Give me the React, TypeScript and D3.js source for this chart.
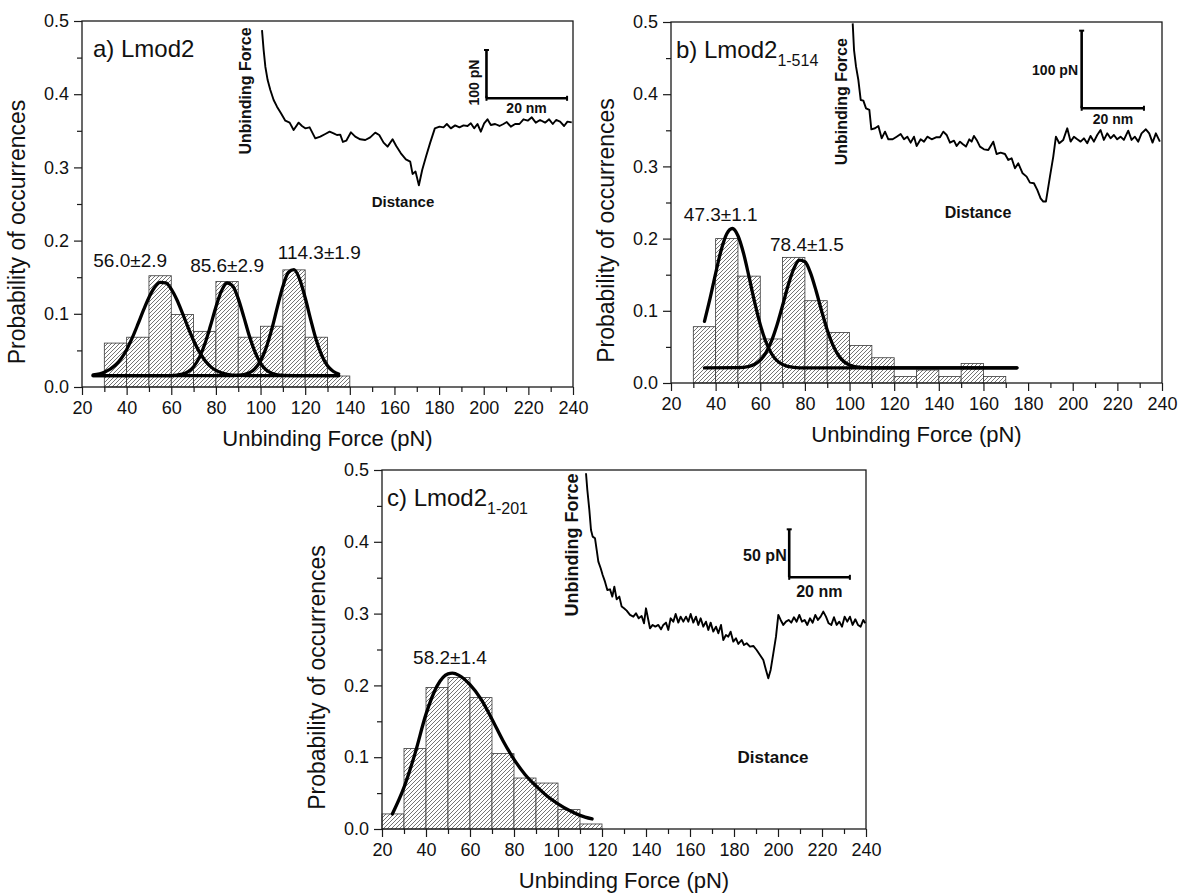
import React, { useEffect, useRef } from "react";
import * as d3 from "d3";

// ---------- axis ticks ----------
const xTicks = [20, 40, 60, 80, 100, 120, 140, 160, 180, 200, 220, 240];
const xMinor = [30, 50, 70, 90, 110, 130, 150, 170, 190, 210, 230];
const yTicks = [0, 0.1, 0.2, 0.3, 0.4, 0.5];
const yMinor = [0.05, 0.15, 0.25, 0.35, 0.45];

// ---------- histograms (bin edges in pN, probability per bin) ----------
const edgesA = [30, 40, 50, 60, 70, 80, 90, 100, 110, 120, 130, 140];
const probA = [0.06, 0.068, 0.152, 0.099, 0.076, 0.144, 0.068, 0.083, 0.16, 0.068, 0.015];

const edgesB = [30, 40, 50, 60, 70, 80, 90, 100, 110, 120, 130, 140, 150, 160, 170];
const probB = [0.078, 0.2, 0.148, 0.061, 0.174, 0.114, 0.07, 0.052, 0.035, 0.009, 0.018, 0.009, 0.027, 0.009];

const edgesC = [20, 30, 40, 50, 60, 70, 80, 90, 100, 110, 120];
const probC = [0.021, 0.112, 0.197, 0.211, 0.183, 0.105, 0.071, 0.064, 0.027, 0.007];

// ---------- fitted curves [force, probability] ----------
const fitA1 = [[25, 0.0165], [30, 0.02], [35, 0.03], [37.5, 0.0387], [40, 0.051], [42.5, 0.067], [45, 0.0854], [47.5, 0.1047], [50, 0.1224], [52.5, 0.1358], [55, 0.1429], [57.5, 0.1421], [60, 0.1337], [62.5, 0.1192], [65, 0.1009], [67.5, 0.0816], [70, 0.0635], [72.5, 0.0483], [75, 0.0366], [77.5, 0.0282], [80, 0.0227], [85, 0.0174], [90, 0.0159], [100, 0.0155], [120, 0.0155], [135, 0.0155]];
const fitA2 = [[25, 0.0155], [50, 0.0155], [60, 0.0156], [65, 0.0176], [70, 0.0277], [72.5, 0.0398], [75, 0.0584], [77.5, 0.0829], [80, 0.1094], [82.5, 0.1313], [85, 0.1421], [87.5, 0.1382], [90, 0.1208], [92.5, 0.0958], [95, 0.0696], [97.5, 0.0479], [100, 0.0327], [105, 0.0189], [110, 0.0159], [120, 0.0155], [135, 0.0155]];
const fitA3 = [[25, 0.0155], [85, 0.0156], [90, 0.0159], [95, 0.0195], [97.5, 0.0251], [100, 0.0357], [102.5, 0.0535], [105, 0.0787], [107.5, 0.1087], [110, 0.1373], [112.5, 0.1566], [115, 0.1603], [117.5, 0.1473], [120, 0.1219], [122.5, 0.0917], [125, 0.0638], [127.5, 0.0427], [130, 0.029], [132.5, 0.0215], [135, 0.0178]];

const fitB1 = [[35, 0.0854], [37.5, 0.1171], [40, 0.152], [42.5, 0.1843], [45, 0.2067], [47.5, 0.214], [50, 0.204], [52.5, 0.1797], [55, 0.1465], [57.5, 0.1117], [60, 0.0809], [62.5, 0.0571], [65, 0.0409], [70, 0.0256], [75, 0.0217], [80, 0.021], [100, 0.021], [175, 0.021]];
const fitB2 = [[35, 0.021], [50, 0.0213], [55, 0.0231], [57.5, 0.026], [60, 0.0317], [62.5, 0.0418], [65, 0.0579], [67.5, 0.0803], [70, 0.1074], [72.5, 0.1353], [75, 0.158], [77.5, 0.1701], [80, 0.168], [82.5, 0.1526], [85, 0.1277], [87.5, 0.0996], [90, 0.0734], [92.5, 0.0528], [95, 0.0384], [100, 0.0249], [105, 0.0216], [110, 0.021], [175, 0.021]];

const fitC1 = [[24.7, 0.021], [30, 0.058], [35, 0.105], [40, 0.16], [45, 0.199], [50, 0.216], [52, 0.217], [55, 0.214], [60, 0.201], [65, 0.181], [70, 0.153], [75, 0.123], [80, 0.097], [85, 0.076], [90, 0.06], [95, 0.046], [100, 0.035], [105, 0.026], [110, 0.019], [115.5, 0.014]];

// ---------- peak annotations ----------
const peakTextA = ["56.0\u00b12.9", "85.6\u00b12.9", "114.3\u00b11.9"];
const peakTextB = ["47.3\u00b11.1", "78.4\u00b11.5"];
const peakTextC = ["58.2\u00b11.4"];

// ---------- example force-distance traces (distance nm, force pN rel. to baseline) ----------
const traceANm = [0, 0.41, 0.83, 1.4, 2.07, 2.89, 3.72, 4.71, 5.79, 6.86, 7.85, 9.09, 9.92, 10.74, 11.82, 13.22, 14.46, 15.7, 16.78, 17.77, 18.6, 19.42, 20.08, 20.91, 22.07, 23.14, 24.38, 25.62, 26.86, 28.1, 29.09, 30.17, 31.16, 32.4, 33.31, 34.46, 35.7, 36.78, 37.36, 38.1, 38.93, 39.75, 40.74, 41.74, 42.89, 44.05, 45.04, 45.87, 46.86, 47.93, 49.0, 50.0, 51.0, 51.82, 52.64, 53.47, 54.3, 55.12, 55.95, 56.78, 57.85, 58.93, 59.92, 60.74, 61.74, 62.81, 63.88, 64.88, 65.95, 66.94, 67.93, 69.0, 70.25, 71.24, 72.15, 72.98, 73.97, 74.96, 75.79, 76.86];
const traceAPn = [194.5, 153, 118.6, 91, 70.3, 49.7, 35.9, 22.1, 6.9, 2.8, -12.4, 2.8, -4.1, -9.0, -6.9, -29.7, -26.2, -20.7, -15.9, -19.3, -22.8, -22.1, -37.2, -34.5, -17.2, -26.2, -31.7, -33.1, -27.6, -17.9, -22.8, -38.6, -46.9, -31.7, -45.5, -60.7, -73.1, -77.9, -103.4, -98.6, -126.9, -95.2, -66.2, -38.6, -9.0, -5.5, -6.9, 0, -9.0, -2.8, -6.9, -2.8, -4.1, 1.4, -9.0, 0, -15.9, 1.4, 9.7, -2.1, 0, -4.1, 0, 4.1, -5.5, 0, 0, 9.7, 6.9, 13.8, 2.8, 8.3, 2.8, 9.7, 0, 8.3, 4.8, -4.1, 4.8, 3.4];

const traceBNm = [0, 0.43, 1.07, 1.82, 2.57, 3.42, 4.28, 5.35, 5.99, 7.17, 8.24, 9.3, 10.37, 11.44, 12.83, 14.12, 15.4, 16.47, 17.54, 18.61, 19.68, 20.53, 21.82, 22.89, 23.96, 25.35, 26.74, 28.02, 29.09, 30.16, 31.23, 32.51, 33.37, 34.44, 35.29, 36.36, 37.43, 38.18, 38.93, 39.79, 40.86, 42.14, 43.53, 45.13, 46.2, 47.49, 48.88, 49.95, 51.02, 52.09, 53.16, 54.55, 55.83, 56.9, 58.18, 59.25, 60.32, 61.18, 62.03, 63.32, 64.39, 65.24, 66.31, 67.59, 68.88, 69.95, 71.02, 72.09, 73.16, 74.23, 75.29, 76.36, 77.43, 78.5, 79.57, 80.64, 81.71, 82.78, 83.85, 84.92, 85.99, 87.06, 88.45, 89.52, 90.59, 91.66, 92.73, 94.12, 95.19, 96.26, 97.33, 98.61];
const traceBPn = [148.1, 113.7, 92.3, 75.1, 49.4, 48.5, 38.6, 36.5, 11.6, 12.9, 15.9, 0, 8.6, -1.3, -1.3, 2.1, 5.6, -1.3, 2.1, -5.6, 2.1, -9.9, -1.3, -4.3, 2.1, -1.3, 1.3, 1.3, 8.6, 4.3, -5.6, -3.0, -9.9, -4.3, -7.3, -10.7, -1.3, -4.3, 3.0, -2.1, -10.7, -14.2, -15.0, -4.3, -20.2, -18.5, -20.2, -27.9, -25.8, -38.6, -32.2, -45.1, -49.4, -57.1, -57.9, -66.5, -77.3, -81.5, -81.5, -49.4, -23.6, 2.1, -6.4, -2.1, 12.9, -4.3, 2.1, -1.3, -4.3, 0, -6.4, 3.0, -4.3, 4.3, 10.7, -2.1, 6.4, 0, 4.3, -1.3, 2.1, -2.1, 9.9, -2.1, 2.1, -4.3, 6.4, 11.6, 6.4, -5.6, 6.4, -4.3];

const traceCNm = [0, 0.44, 1.1, 1.65, 2.2, 2.97, 3.52, 4.07, 4.84, 5.49, 6.26, 7.03, 7.91, 8.68, 9.34, 10.11, 10.99, 11.76, 12.53, 13.41, 14.51, 15.6, 16.48, 17.36, 18.35, 19.12, 19.78, 20.55, 21.1, 21.98, 22.86, 23.85, 24.73, 25.49, 26.37, 27.14, 27.91, 28.79, 29.56, 30.44, 31.21, 32.09, 32.97, 33.74, 34.51, 35.38, 36.26, 37.03, 37.8, 38.68, 39.56, 40.33, 41.1, 41.98, 42.86, 43.63, 44.51, 45.27, 46.15, 46.92, 47.69, 48.57, 49.45, 50.22, 51.32, 52.09, 52.97, 54.07, 55.16, 56.26, 57.36, 58.46, 59.34, 60.11, 60.88, 61.76, 62.64, 63.41, 64.18, 65.05, 65.93, 66.81, 67.69, 68.57, 69.45, 70.33, 71.21, 72.09, 72.97, 73.85, 74.73, 75.6, 76.48, 77.36, 78.24, 79.12, 80.0, 80.88, 81.76, 82.64, 83.52, 84.4, 85.27, 86.15, 87.03, 87.91, 88.79, 89.67, 90.55, 91.43, 92.09];
const traceCPn = [156.3, 138.9, 118.1, 97.2, 90.3, 88.5, 76.4, 64.2, 57.3, 50.3, 43.4, 34.7, 35.4, 27.8, 38.2, 25.0, 27.8, 17.4, 15.6, 13.2, 8.7, 6.9, 10.4, 5.2, 7.6, 0, 15.6, 3.5, -5.2, -1.7, -3.5, -1.7, -6.3, -1.7, 0.7, -6.9, 5.2, 1.7, 9.7, 0.7, 6.9, 1.7, 6.9, 1.7, 9.7, 0.7, 6.9, -1.7, 5.2, -3.5, 1.7, -6.9, 0.7, -8.7, -3.5, -10.4, -1.7, -17.4, -12.2, -13.9, -8.7, -19.1, -15.6, -21.5, -17.4, -22.6, -20.8, -24.3, -23.6, -27.8, -33.0, -38.2, -48.6, -57.3, -48.6, -31.3, -13.9, 8.7, 3.5, -1.7, 1.7, 3.5, 0.7, 6.3, 1.7, 8.7, 1.7, 3.5, -1.7, 5.2, 0.7, 8.7, 3.5, 6.9, 12.2, 6.9, 0, -1.7, 6.3, -1.7, 1.7, -3.5, 6.9, 1.7, 6.9, -1.7, 4.2, -1.7, -3.5, 3.5, 0];

// scale bars of the insets
const barForce = [100, 100, 50];
const barDist = [20, 20, 20];

const FONT = "'Liberation Sans', Arial, Helvetica, sans-serif";

// layout of the three panels (pixels)
const panels = [
  {
    left: 82, top: 21, w: 491, h: 366,
    label: "a) Lmod2", sub: "", labelX: 11,
    edges: edgesA, probs: probA, fits: [fitA1, fitA2, fitA3],
    notes: peakTextA, notePos: [[41.6, 0.164], [85, 0.157], [126.3, 0.175]],
    inset: {
      nm: traceANm, pN: traceAPn, ox: 180, oy: 103, pxNm: 4.03, pxPn: 0.483,
      barNm: 55.7, barPn: 53.2, force: barForce[0], dist: barDist[0],
      forceLabel: "100 pN", forceRot: true, forcePos: [391.6, 61.5], distPos: [444.6, 87.3], barFont: 14,
      ubPos: [163.3, 70], ubFont: 16, distTextPos: [321, 180.7], distFont: 15,
    },
  },
  {
    left: 671, top: 22, w: 491, h: 361,
    label: "b) Lmod2", sub: "1-514", labelX: 5,
    edges: edgesB, probs: probB, fits: [fitB1, fitB2],
    notes: peakTextB, notePos: [[42.3, 0.225], [80.9, 0.183]],
    inset: {
      nm: traceBNm, pN: traceBPn, ox: 181.7, oy: 116.3, pxNm: 3.115, pxPn: 0.776,
      barNm: 73.5, barPn: 38.7, force: barForce[1], dist: barDist[1],
      forceLabel: "100 pN", forceRot: false, forcePos: [407, 48], distPos: [442, 97], barFont: 14,
      ubPos: [170.7, 79.7], ubFont: 16, distTextPos: [307, 190], distFont: 16,
    },
  },
  {
    left: 382, top: 470, w: 484, h: 359,
    label: "c) Lmod2", sub: "1-201", labelX: 5,
    edges: edgesC, probs: probC, fits: [fitC1],
    notes: peakTextC, notePos: [[50.9, 0.23]],
    inset: {
      nm: traceCNm, pN: traceCPn, ox: 204, oy: 153.3, pxNm: 3.033, pxPn: 0.96,
      barNm: 67.0, barPn: 47.9, force: barForce[2], dist: barDist[2],
      forceLabel: "50 pN", forceRot: false, forcePos: [404.7, 85], distPos: [437.3, 121.7], barFont: 16,
      ubPos: [189.7, 75], ubFont: 18, distTextPos: [391, 287], distFont: 17,
    },
  },
];

function drawPanel(root: any, p: any) {
  const g = root.append("g").attr("transform", `translate(${p.left},${p.top})`);
  const x = d3.scaleLinear().domain([20, 240]).range([0, p.w]);
  const y = d3.scaleLinear().domain([0, 0.5]).range([p.h, 0]);

  // histogram bars
  g.selectAll("rect.bar")
    .data(p.probs)
    .enter()
    .append("rect")
    .attr("class", "bar")
    .attr("x", (d: number, i: number) => x(p.edges[i]))
    .attr("width", (d: number, i: number) => x(p.edges[i + 1]) - x(p.edges[i]))
    .attr("y", (d: number) => y(d))
    .attr("height", (d: number) => p.h - y(d))
    .attr("fill", "url(#hatch)")
    .attr("stroke", "#3a3a3a")
    .attr("stroke-width", 0.8);

  // fitted curves
  const line = d3.line<number[]>()
    .x(d => x(d[0]))
    .y(d => y(d[1]))
    .curve(d3.curveMonotoneX);
  p.fits.forEach((f: number[][]) => {
    g.append("path")
      .datum(f)
      .attr("d", line)
      .attr("fill", "none")
      .attr("stroke", "#000")
      .attr("stroke-width", 3.3)
      .attr("stroke-linecap", "round")
      .attr("stroke-linejoin", "round");
  });

  // peak labels
  p.notes.forEach((t: string, i: number) => {
    g.append("text")
      .attr("x", x(p.notePos[i][0]))
      .attr("y", y(p.notePos[i][1]))
      .attr("text-anchor", "middle")
      .attr("font-family", FONT)
      .attr("font-size", 19)
      .attr("fill", "#111")
      .text(t);
  });

  // axes
  const styleAxis = (ax: any) => {
    ax.select(".domain").remove();
    ax.selectAll("line").attr("stroke", "#1a1a1a").attr("stroke-width", 1.2);
    ax.selectAll("text").attr("font-family", FONT).attr("font-size", 18).attr("fill", "#111");
  };
  const xa = g.append("g").attr("transform", `translate(0,${p.h})`)
    .call(d3.axisBottom(x).tickValues(xTicks).tickSize(8).tickPadding(6).tickFormat(d3.format("d")));
  styleAxis(xa);
  const xm = g.append("g").attr("transform", `translate(0,${p.h})`)
    .call(d3.axisBottom(x).tickValues(xMinor).tickSize(5).tickFormat(() => ""));
  styleAxis(xm);
  const ya = g.append("g")
    .call(d3.axisLeft(y).tickValues(yTicks).tickSize(8).tickPadding(5).tickFormat(d3.format(".1f")));
  styleAxis(ya);
  const ym = g.append("g")
    .call(d3.axisLeft(y).tickValues(yMinor).tickSize(5).tickFormat(() => ""));
  styleAxis(ym);

  // frame
  g.append("rect")
    .attr("width", p.w).attr("height", p.h)
    .attr("fill", "none").attr("stroke", "#1a1a1a").attr("stroke-width", 1.3);

  // axis titles
  g.append("text")
    .attr("x", p.w / 2).attr("y", p.h + 59)
    .attr("text-anchor", "middle")
    .attr("font-family", FONT).attr("font-size", 22).attr("fill", "#111")
    .text("Unbinding Force (pN)");
  g.append("text")
    .attr("transform", `translate(-57,${p.h / 2 + 28}) rotate(-90)`)
    .attr("text-anchor", "middle")
    .attr("font-family", FONT).attr("font-size", 23).attr("fill", "#111")
    .text("Probability of occurrences");

  // panel label
  const lab = g.append("text")
    .attr("x", p.labelX).attr("y", 36)
    .attr("font-family", FONT).attr("font-size", 24).attr("fill", "#111");
  lab.append("tspan").text(p.label);
  if (p.sub) lab.append("tspan").attr("font-size", 16).attr("dy", 8).text(p.sub);

  drawInset(g, p.inset);
}

function drawInset(g: any, s: any) {
  const ix = d3.scaleLinear().domain([0, 1]).range([s.ox, s.ox + s.pxNm]);
  const iy = d3.scaleLinear().domain([0, 1]).range([s.oy, s.oy - s.pxPn]);
  const pts = d3.zip(s.nm, s.pN) as number[][];

  g.append("path")
    .datum(pts)
    .attr("d", d3.line<number[]>().x(d => ix(d[0])).y(d => iy(d[1])))
    .attr("fill", "none")
    .attr("stroke", "#000")
    .attr("stroke-width", 1.9)
    .attr("stroke-linejoin", "round");

  // scale bar
  const bx = ix(s.barNm), by = iy(s.barPn);
  const byTop = iy(s.barPn + s.force), bxEnd = ix(s.barNm + s.dist);
  const bar = g.append("g").attr("stroke", "#000").attr("stroke-width", 2.6).attr("fill", "none");
  bar.append("line").attr("x1", bx).attr("x2", bx).attr("y1", byTop).attr("y2", by);
  bar.append("line").attr("x1", bx).attr("x2", bxEnd).attr("y1", by).attr("y2", by);
  bar.append("line").attr("x1", bx - 2.5).attr("x2", bx + 2.5).attr("y1", byTop).attr("y2", byTop).attr("stroke-width", 2);
  bar.append("line").attr("x1", bxEnd).attr("x2", bxEnd).attr("y1", by - 2.5).attr("y2", by + 2.5).attr("stroke-width", 2);
  bar.append("line").attr("x1", bx).attr("x2", bx).attr("y1", by - 2.5).attr("y2", by + 2.5).attr("stroke-width", 2);

  const bold = (sel: any, size: number) =>
    sel.attr("font-family", FONT).attr("font-weight", "bold").attr("font-size", size).attr("fill", "#111");

  if (s.forceRot) {
    bold(g.append("text"), s.barFont)
      .attr("transform", `translate(${s.forcePos[0]},${s.forcePos[1]}) rotate(-90)`)
      .attr("text-anchor", "middle").attr("dy", "0.35em")
      .text(s.forceLabel);
  } else {
    bold(g.append("text"), s.barFont)
      .attr("x", s.forcePos[0]).attr("y", s.forcePos[1])
      .attr("text-anchor", "end").attr("dy", "0.35em")
      .text(s.forceLabel);
  }
  bold(g.append("text"), s.barFont)
    .attr("x", s.distPos[0]).attr("y", s.distPos[1])
    .attr("text-anchor", "middle").attr("dy", "0.35em")
    .text("20 nm");

  bold(g.append("text"), s.ubFont)
    .attr("transform", `translate(${s.ubPos[0]},${s.ubPos[1]}) rotate(-90)`)
    .attr("text-anchor", "middle").attr("dy", "0.35em")
    .text("Unbinding Force");
  bold(g.append("text"), s.distFont)
    .attr("x", s.distTextPos[0]).attr("y", s.distTextPos[1])
    .attr("text-anchor", "middle").attr("dy", "0.35em")
    .text("Distance");
}

export default function App() {
  const svgRef = useRef<SVGSVGElement>(null);

  useEffect(() => {
    document.body.style.margin = "0";
    const svg = d3.select(svgRef.current);
    svg.selectAll("*").remove();

    const defs = svg.append("defs");
    const pat = defs.append("pattern")
      .attr("id", "hatch")
      .attr("patternUnits", "userSpaceOnUse")
      .attr("width", 4).attr("height", 4);
    pat.append("rect").attr("width", 4).attr("height", 4).attr("fill", "#fff");
    pat.append("path")
      .attr("d", "M-1,1 L1,-1 M0,4 L4,0 M3,5 L5,3")
      .attr("stroke", "#505050")
      .attr("stroke-width", 0.8);

    panels.forEach(p => drawPanel(svg, p));
  }, []);

  return (
    <svg ref={svgRef} width={1179} height={896} style={{ display: "block", background: "#fff" }} />
  );
}
